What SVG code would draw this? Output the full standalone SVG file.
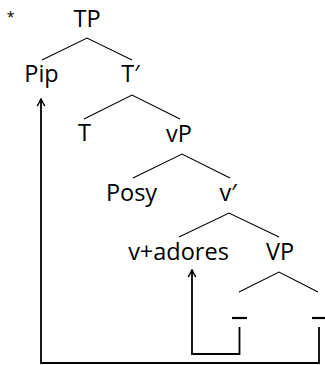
<svg xmlns="http://www.w3.org/2000/svg" width="325" height="365" viewBox="0 0 325 365">
<style>
text{font-family:"Open Sans","Noto Sans",sans-serif;font-size:23.5px;fill:#000;text-anchor:middle}
.e{stroke:#000;stroke-width:1.1;fill:none}
.m{stroke:#000;stroke-width:1.8;fill:none}
.bar{stroke:#000;stroke-width:2.2}
</style>
<defs>
<marker id="ah" viewBox="-10 -5 12 10" markerWidth="12" markerHeight="10" refX="0" refY="0" orient="auto" markerUnits="userSpaceOnUse" overflow="visible">
<path d="M0.5,0 C-2.5,-1 -5,-2.5 -7,-3.8 M0.5,0 C-2.5,1 -5,2.5 -7,3.8" stroke="#000" stroke-width="1.4" fill="none"/>
</marker>
</defs>
<text x="10.5" y="22" style="font-size:14px">*</text>
<g id="TP"><text x="87" y="27">TP</text></g>
<g id="Pip"><text x="41.5" y="82">Pip</text></g>
<g id="Tbar"><text x="130.5" y="82">T′</text></g>
<g id="T"><text x="84.5" y="141">T</text></g>
<g id="vP"><text x="179" y="142">vP</text></g>
<g id="Posy"><text x="131.5" y="201">Posy</text></g>
<g id="vbar"><text x="228" y="201">v′</text></g>
<g id="vadores"><text x="178.5" y="260">v+adores</text></g>
<g id="VP"><text x="280" y="260">VP</text></g>
<g id="t1"><line class="bar" x1="232" y1="318" x2="247" y2="318"/></g>
<g id="t2"><line class="bar" x1="312" y1="318" x2="326" y2="318"/></g>
<g id="connectors">
<path class="e" d="M42,60 L87,38 L132,60"/>
<path class="e" d="M84,119 L132,95 L180,119"/>
<path class="e" d="M133,178 L182,154 L230,178"/>
<path class="e" d="M179,237 L229,213 L279,237"/>
<path class="e" d="M239,292 L279,272 L318,292"/>
<path class="m" d="M239.5,327 V354 H192 V270" marker-end="url(#ah)"/>
<path class="m" d="M319,327 V363 H41 V99" marker-end="url(#ah)"/>
</g>
</svg>
